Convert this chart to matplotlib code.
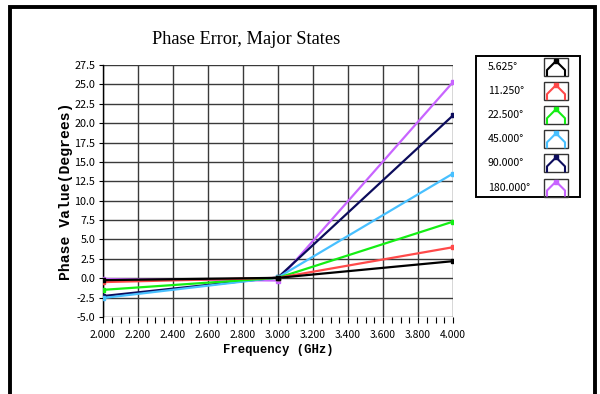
import matplotlib
matplotlib.use("Agg")
import matplotlib.pyplot as plt
from matplotlib.lines import Line2D
from matplotlib.patches import Rectangle
from matplotlib.ticker import MultipleLocator, FormatStrFormatter

W, H, DPI = 600, 394, 100

# Phase error (degrees) of each major state versus frequency (GHz)
freq_ghz = [2.0, 3.0, 4.0]
state_labels = ["5.625°", "11.250°", "22.500°", "45.000°", "90.000°", "180.000°"]
err_5p625 = [-0.25, 0.05, 2.2]
err_11p25 = [-0.5, 0.05, 4.0]
err_22p5 = [-1.5, 0.05, 7.3]
err_45 = [-2.55, 0.1, 13.5]
err_90 = [-2.3, 0.1, 21.0]
err_180 = [-0.1, -0.3, 25.3]
series = [err_5p625, err_11p25, err_22p5, err_45, err_90, err_180]
colors = ["#000000", "#ff4a4a", "#14ee14", "#48c0ff", "#0c0c5c", "#c864ff"]

TICK_FONT = "Noto Sans CJK JP"


def fpt(x, y):
    """Pixel position (origin top-left) to figure fraction."""
    return x / W, 1 - y / H


fig = plt.figure(figsize=(W / DPI, H / DPI), dpi=DPI)
fig.patch.set_facecolor("white")

# plot area
L, R, T, B = 103, 453, 65, 317
ax = fig.add_axes([L / W, 1 - B / H, (R - L) / W, (B - T) / H])

for vals, col in reversed(list(zip(series, colors))):
    ax.plot(freq_ghz, vals, color=col, lw=1.6, marker="s", ms=2.8,
            mec=col, mfc=col, solid_capstyle="butt", zorder=3)

ax.set_xlim(2.0, 4.0)
ax.set_ylim(-5.0, 27.5)
ax.xaxis.set_major_locator(MultipleLocator(0.2))
ax.xaxis.set_minor_locator(MultipleLocator(0.05))
ax.yaxis.set_major_locator(MultipleLocator(2.5))
ax.xaxis.set_major_formatter(FormatStrFormatter("%.3f"))
ax.yaxis.set_major_formatter(FormatStrFormatter("%.1f"))
ax.grid(True, which="major", color="#3a3a3a", lw=1.0, zorder=1)
ax.set_axisbelow(True)
for s in ["top", "right", "bottom"]:
    ax.spines[s].set_visible(False)
ax.spines["left"].set_color("black")
ax.spines["left"].set_linewidth(1.0)
ax.tick_params(axis="x", which="both", direction="out", length=4, width=0.8,
               color="black", pad=5, labelsize=7.5)
ax.tick_params(axis="y", which="major", direction="out", length=3, width=0.8,
               color="black", pad=2.5, labelsize=7.8)
for lab in ax.get_xticklabels() + ax.get_yticklabels():
    lab.set_family(TICK_FONT)

ax.set_xlabel("Frequency (GHz)", family="Liberation Mono", weight="bold",
              fontsize=8.8, labelpad=3)
ax.set_ylabel("Phase Value(Degrees)", family="Liberation Mono", weight="bold",
              fontsize=10.6, labelpad=1)

# title
tx, ty = fpt(246, 40)
fig.text(tx, ty, "Phase Error, Major States", family="Liberation Serif",
         fontsize=13.2, ha="center", va="center")

# outer window frame
x0, y0 = fpt(10, 7)
x1, y1 = fpt(595, 400)
fig.add_artist(Rectangle((x0, y1), x1 - x0, y0 - y1, transform=fig.transFigure,
                         fill=False, ec="black", lw=2.8, joinstyle="miter"))

# legend panel
lx0, ly0 = fpt(476, 56)
lx1, ly1 = fpt(580, 197)
fig.add_artist(Rectangle((lx0, ly1), lx1 - lx0, ly0 - ly1, transform=fig.transFigure,
                         fill=False, ec="black", lw=1.4))

row0, row_step = 67, 24.1
for i, (lab, col) in enumerate(zip(state_labels, colors)):
    cy = row0 + i * row_step
    px, py = fpt(488, cy)
    fig.text(px, py, lab, family=TICK_FONT, fontsize=7.6, ha="left", va="center")
    # swatch box
    bx0, by0 = fpt(544, cy - 9)
    bx1, by1 = fpt(568, cy + 9)
    fig.add_artist(Rectangle((bx0, by1), bx1 - bx0, by0 - by1,
                             transform=fig.transFigure, fill=False,
                             ec="#333333", lw=1.0))
    # swatch glyph
    pts = [(547, cy + 8), (547, cy + 3), (556, cy - 6), (565, cy + 3), (565, cy + 8)]
    xs = [fpt(a, b)[0] for a, b in pts]
    ys = [fpt(a, b)[1] for a, b in pts]
    fig.add_artist(Line2D(xs, ys, transform=fig.transFigure, color=col, lw=1.5))
    mx, my = fpt(556, cy - 6)
    fig.add_artist(Line2D([mx], [my], transform=fig.transFigure, color=col,
                          marker="s", ms=2.6, lw=0))

fig.savefig("out.png", dpi=DPI)
